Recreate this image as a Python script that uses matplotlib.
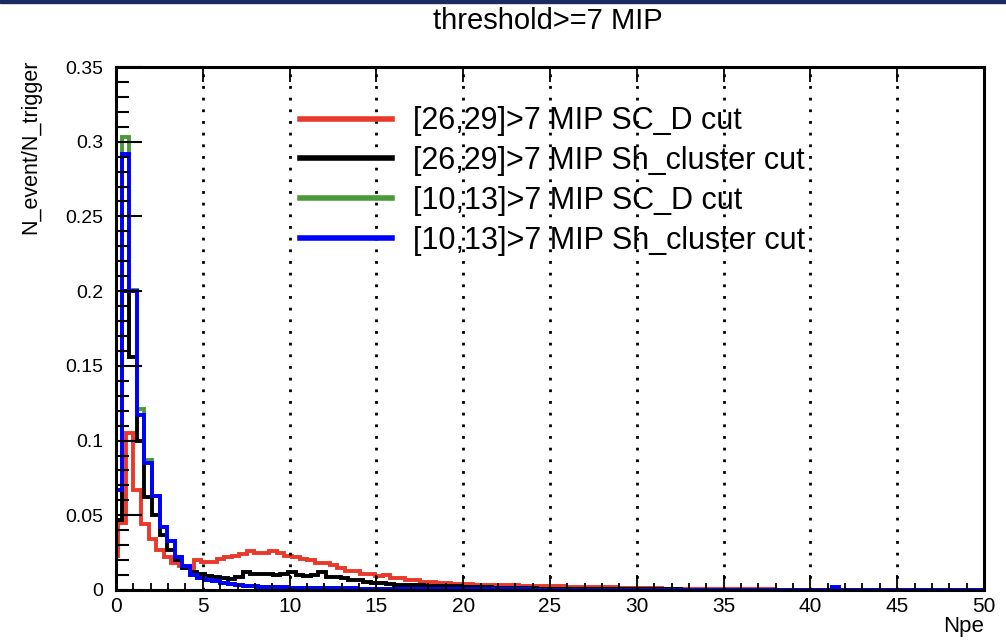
import numpy as np
import matplotlib.pyplot as plt
from matplotlib.lines import Line2D
from matplotlib.patches import Rectangle
from matplotlib.ticker import MultipleLocator

plt.rcParams['font.family'] = ['Liberation Sans', 'DejaVu Sans']

# binning of the two layer groups (Npe)
bin_width = 0.435
edges_1013 = -0.1 + bin_width * np.arange(117)
edges_2629 = -0.3 + bin_width * np.arange(117)

labels = ['[26,29]>7 MIP SC_D cut', '[26,29]>7 MIP Sh_cluster cut',
          '[10,13]>7 MIP SC_D cut', '[10,13]>7 MIP Sh_cluster cut']
colors = ['#e8392a', '#000000', '#4a9a3a', '#0000ff']

# N_event/N_trigger per bin
red_2629_scd = [
    0.023, 0.045, 0.105, 0.067, 0.044, 0.034, 0.027, 0.022, 0.018, 0.016,
    0.015, 0.020, 0.019, 0.019, 0.021, 0.022, 0.023, 0.024, 0.026, 0.025,
    0.025, 0.026, 0.025, 0.023, 0.022, 0.021, 0.020, 0.018, 0.018, 0.017,
    0.015, 0.013, 0.013, 0.011, 0.011, 0.0095, 0.010, 0.008, 0.008, 0.0068,
    0.0065, 0.0056, 0.0055, 0.0050, 0.0048, 0.0042, 0.0040, 0.0038, 0.0036, 0.0035,
    0.0034, 0.0033, 0.0031, 0.0031, 0.0029, 0.0028, 0.0027, 0.0026, 0.0025, 0.0024,
    0.0023, 0.0022, 0.0021, 0.0020, 0.0019, 0.0018, 0.0017, 0.0016, 0.0015, 0.0014,
    0.0013, 0.0012, 0.0011, 0.0010, 0.0010, 0.0009, 0.0008, 0.0008, 0.0007, 0.0007,
    0.0006, 0.0006, 0.0005, 0.0005, 0.0005, 0.0004, 0.0004, 0.0004, 0.0003, 0.0003,
    0.0003, 0.0003, 0.0002, 0.0002, 0.0002, 0.0002, 0.0002, 0.0001, 0.0001, 0.0001,
    0.0001, 0.0001, 0.0001, 0.0001, 0.0001, 0.0001, 0.0001, 0.0001, 0.0001, 0.0001,
    0.0001, 0.0001, 0.0001, 0.0001, 0.0001, 0.0001,
]
black_2629_sh = [
    0.047, 0.200, 0.156, 0.100, 0.062, 0.050, 0.037, 0.027, 0.020, 0.015,
    0.012, 0.011, 0.0095, 0.0085, 0.008, 0.0075, 0.0085, 0.012, 0.011, 0.0105,
    0.011, 0.010, 0.0105, 0.012, 0.010, 0.0095, 0.010, 0.012, 0.009, 0.0085,
    0.008, 0.007, 0.0065, 0.0055, 0.005, 0.0045, 0.004, 0.0036, 0.0034, 0.0033,
    0.0032, 0.0030, 0.0029, 0.0027, 0.0026, 0.0025, 0.0022, 0.0020, 0.0019, 0.0018,
    0.0016, 0.0015, 0.0014, 0.0013, 0.0012, 0.0011, 0.0010, 0.0010, 0.0009, 0.0009,
    0.0008, 0.0008, 0.0007, 0.0007, 0.0006, 0.0006, 0.0006, 0.0005, 0.0005, 0.0005,
    0.0004, 0.0004, 0.0004, 0.0004, 0.0004, 0.0003, 0.0003, 0.0003, 0.0003, 0.0003,
    0.0003, 0.0003, 0.0003, 0.0003, 0.0003, 0.0002, 0.0002, 0.0002, 0.0002, 0.0002,
    0.0002, 0.0002, 0.0002, 0.0002, 0.0002, 0.0001, 0.0001, 0.0001, 0.0001, 0.0001,
    0.0001, 0.0001, 0.0001, 0.0001, 0.0001, 0.0001, 0.0001, 0.0001, 0.0001, 0.0001,
    0.0001, 0.0001, 0.0001, 0.0001, 0.0001, 0.0001,
]
blue_1013_sh = [
    0.067, 0.292, 0.200, 0.117, 0.085, 0.063, 0.042, 0.033, 0.022, 0.016,
    0.010, 0.008, 0.0068, 0.006, 0.005, 0.0042, 0.0035, 0.003, 0.0025, 0.0023,
    0.0022, 0.0021, 0.0020, 0.0016, 0.0015, 0.0014, 0.0013, 0.0013, 0.0012, 0.0012,
    0.0011, 0.0011, 0.0010, 0.0010, 0.0009, 0.0009, 0.0008, 0.0008, 0.0008, 0.0007,
    0.0007, 0.0007, 0.0006, 0.0006, 0.0006, 0.0005, 0.0005, 0.0005, 0.0005, 0.0004,
    0.0004, 0.0004, 0.0004, 0.0004, 0.0004, 0.0003, 0.0003, 0.0003, 0.0003, 0.0003,
    0.0003, 0.0003, 0.0003, 0.0003, 0.0003, 0.0002, 0.0002, 0.0002, 0.0002, 0.0002,
    0.0002, 0.0002, 0.0002, 0.0002, 0.0002, 0.0002, 0.0002, 0.0002, 0.0002, 0.0002,
    0.0001, 0.0001, 0.0001, 0.0001, 0.0001, 0.0001, 0.0001, 0.0001, 0.0001, 0.0001,
    0.0001, 0.0001, 0.0001, 0.0001, 0.0001, 0.0018, 0.0001, 0.0001, 0.0001, 0.0001,
    0.0001, 0.0001, 0.0001, 0.0001, 0.0001, 0.0001, 0.0001, 0.0001, 0.0001, 0.0001,
    0.0001, 0.0001, 0.0001, 0.0001, 0.0001, 0.0001,
]
# SC_D cut only differs from Sh_cluster in the first bins
green_1013_scd = [0.067, 0.303, 0.201, 0.121, 0.087, 0.063, 0.042, 0.033, 0.022, 0.016] \
    + blue_1013_sh[10:]

fig = plt.figure(figsize=(10.06, 6.41), dpi=100)
fig.patches.append(Rectangle((0, 1 - 3 / 641), 1, 3 / 641, transform=fig.transFigure,
                             color='#1c2b5e', zorder=0))
ax = fig.add_axes([116 / 1006, 1 - 590 / 641, 868 / 1006, 523 / 641])

hists = [(red_2629_scd, edges_2629), (black_2629_sh, edges_1013),
         (green_1013_scd, edges_1013), (blue_1013_sh, edges_1013)]
for (vals, edges), c in zip(hists, colors):
    ax.stairs(vals, edges, baseline=None, color=c, lw=2.8)

ax.set_xlim(0, 50)
ax.set_ylim(0, 0.35)
ax.set_axisbelow(False)
ax.xaxis.set_major_locator(MultipleLocator(5))
ax.xaxis.set_minor_locator(MultipleLocator(1))
ax.yaxis.set_major_locator(MultipleLocator(0.05))
ax.yaxis.set_minor_locator(MultipleLocator(0.01))
ax.yaxis.set_major_formatter(lambda v, p: '0' if v == 0 else f'{v:g}')
ax.tick_params(axis='x', which='major', direction='in', length=11, width=1.3,
               labelsize=15, pad=5, top=True)
ax.tick_params(axis='x', which='minor', direction='in', length=5, width=1.3, top=False)
ax.tick_params(axis='y', which='major', direction='in', length=19, width=1.5,
               labelsize=14, pad=9)
ax.tick_params(axis='y', which='minor', direction='in', length=9, width=1.5)
for s in ax.spines.values():
    s.set_linewidth(2.2)

ax.grid(axis='x', which='major', color='black', lw=2.0, linestyle=(0, (1, 3.2)))

ax.set_xlabel('Npe', loc='right', fontsize=16)
ax.xaxis.set_label_coords(1.0, -0.05)
ax.set_ylabel('N_event/N_trigger', loc='top', fontsize=15.5)
ax.yaxis.set_label_coords(-0.086, 1.015)
fig.text(548 / 1006, 1 - 21 / 641, 'threshold>=7 MIP', ha='center', va='center', fontsize=21)

handles = [Line2D([], [], color=c, lw=4) for c in colors]
ax.legend(handles, labels, loc='upper left', bbox_to_anchor=(0.212, 0.925),
          frameon=False, fontsize=22, handlelength=3.0, handletextpad=0.7,
          labelspacing=0.32, borderaxespad=0, borderpad=0)

fig.savefig('out.png', dpi=100)
